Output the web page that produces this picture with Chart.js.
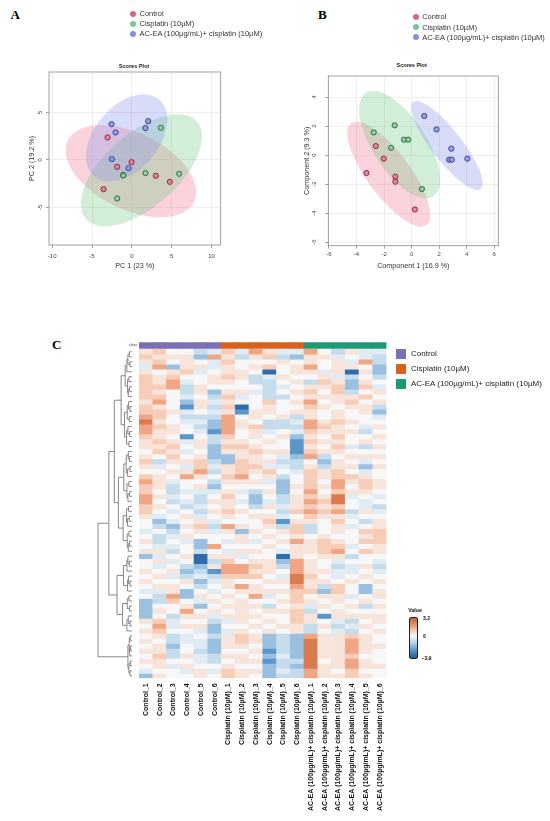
<!DOCTYPE html>
<html>
<head>
<meta charset="utf-8">
<script src="https://cdn.jsdelivr.net/npm/chart.js"></script>
<style>
  body { margin: 0; background: #fff; font-family: 'Liberation Sans', Arial, sans-serif; }
  #page { position: relative; width: 550px; height: 821px; overflow: hidden; background: #fff; }
  canvas { position: absolute; }
  .panel { position: absolute; font: bold 13px/13px 'Liberation Serif', 'Times New Roman', serif; color: #000; }
  .leg { position: absolute; height: 10px; line-height: 10px; font-size: 7.5px; color: #333; white-space: nowrap; }
  .leg i { display: inline-block; width: 6px; height: 6px; border-radius: 50%; margin-right: 3.5px; vertical-align: -0.5px; }
  .title { position: absolute; font: bold 5.5px/6px 'Liberation Sans', Arial, sans-serif; color: #222; transform: translateX(-50%); white-space: nowrap; }
  .hleg { position: absolute; height: 10px; line-height: 10px; font-size: 8px; color: #222; white-space: nowrap; }
  .hsq { position: absolute; width: 10px; height: 10px; }
  .cb { position: absolute; font-weight: bold; color: #111; white-space: nowrap; }
</style>
</head>
<body>
<div id="page">
  <div class="panel" style="left:10.5px;top:8px">A</div>
  <div class="panel" style="left:318px;top:8px">B</div>
  <div class="panel" style="left:52px;top:338px">C</div>
  <div class="title" style="left:134px;top:62.5px">Scores Plot</div>
  <div class="title" style="left:411.7px;top:62px">Scores Plot</div>
  <canvas id="pcaA" width="275" height="280" style="left:0;top:0"></canvas>
  <canvas id="plsB" width="275" height="280" style="left:275px;top:0"></canvas>
  <canvas id="heat" width="305" height="491" style="left:90px;top:330px"></canvas>
  <div class="cb" style="left:129px;top:343px;font-size:3.5px;font-weight:normal;color:#333">class</div>
</div>
<script>
// ---- data ----
const groupNames = ['Control', 'Cisplatin (10µM)', 'AC-EA (100µg/mL)+ cisplatin (10µM)'];

// A: PCA scores
const aControlX = [-3.05, -1.84, -0.04, 3.01, 4.77, -3.55];
const aControlY = [2.35, -0.74, -0.25, -1.68, -2.32, -3.09];
const aCisX = [3.64, 1.71, 5.94, -1.09, -1.07, -1.84];
const aCisY = [3.37, -1.40, -1.47, -1.58, -1.65, -4.07];
const aComboX = [-2.55, -2.05, 2.05, 1.71, -2.51, -0.42];
const aComboY = [3.75, 2.88, 4.07, 3.33, 0.07, -0.88];
// confidence ellipses: centre x, centre y, half width, half height, correlation
const aEllipses = [[-0.12, -1.2, 8.2, 4.85, -0.45], [1.2, -1.1, 7.6, 5.9, 0.6], [-0.65, 2.3, 5.1, 4.6, 0.42]];
const aTicksX = [-10, -5, 0, 5, 10];
const aTicksY = [-5, 0, 5];

// B: PLS-DA scores
const bControlX = [-2.60, -2.02, -3.28, -1.18, -1.18, 0.24];
const bControlY = [0.62, -0.25, -1.24, -1.49, -1.84, -3.75];
const bCisX = [-2.75, -1.23, -0.55, -0.24, -1.49, 0.75];
const bCisY = [1.56, 2.05, 1.06, 1.06, 0.50, -2.34];
const bComboX = [0.92, 1.81, 2.89, 2.73, 2.92, 4.05];
const bComboY = [2.69, 1.77, 0.44, -0.32, -0.32, -0.25];
const bEllipses = [[-1.65, -1.32, 3.02, 3.62, -0.78], [-0.87, 0.72, 2.94, 3.71, -0.65], [2.57, 0.66, 2.6, 3.07, -0.85]];
const bTicksX = [-6, -4, -2, 0, 2, 4, 6];
const bTicksY = [-6, -4, -2, 0, 2, 4];

// C: heatmap
const sampleLabels = [
  'Control_1', 'Control_2', 'Control_3', 'Control_4', 'Control_5', 'Control_6',
  'Cisplatin (10µM)_1', 'Cisplatin (10µM)_2', 'Cisplatin (10µM)_3', 'Cisplatin (10µM)_4', 'Cisplatin (10µM)_5', 'Cisplatin (10µM)_6',
  'AC-EA (100µg/mL)+ cisplatin (10µM)_1', 'AC-EA (100µg/mL)+ cisplatin (10µM)_2', 'AC-EA (100µg/mL)+ cisplatin (10µM)_3',
  'AC-EA (100µg/mL)+ cisplatin (10µM)_4', 'AC-EA (100µg/mL)+ cisplatin (10µM)_5', 'AC-EA (100µg/mL)+ cisplatin (10µM)_6'
];
const sampleGroups = [0, 0, 0, 0, 0, 0, 1, 1, 1, 1, 1, 1, 2, 2, 2, 2, 2, 2];
// one letter per cell, a = strongly low ... j = strongly high
const levelCodes = 'abcdefghij';
const levelValues = [-3.5, -2.5, -1.6, -0.9, -0.4, 0, 0.4, 0.9, 1.6, 2.5];
const heatRows = [
  'ghffdeheigeeifdgee', 'hgggcigdghdcggefed', 'ghfgfehfffgfgfgeid', 'eicggegfghfgifggfc',
  'gfghefggfafggegagc', 'hghffghgdegffgedfd', 'hgiefggfddfgdhgcgf', 'hhidgffffdefgghche',
  'hgfdgcggedfghfhdfg', 'hhfefdhefddfgggghf', 'gifcgegffhfgifghfg', 'hgfbgdhafgffhgfggd',
  'hhgefegbggfggfgfgc', 'ihfdddifgfgdgfgffe', 'jgfeecigfddeighgff', 'ihgfdcighdddihgfeg',
  'iggfebifgefehgggdf', 'hgfbfdhfgfgcgfhffg', 'ghgegdggfgfbhggfgf', 'gghfgchhgffbgfhedg',
  'fhgefcgghggbhggfff', 'gfhfgccggfecidfggg', 'hdgghdchggddfcgfef', 'gefeheghheedgdggcg',
  'ffggidghghfehghfef', 'hgfigfhifgdfhghhgf', 'igeffdgggecfhfighg', 'hgdfgcffffcghgifhg',
  'hfdeeegedgcfifhggf', 'igefdfhfcfdghgjefe', 'ifdedggecedgihjfef', 'hgfdefgfdgeghghfed',
  'hfefdghgffdhihidge', 'gefgefgfggefhggeff', 'fcefgefffhbggfhfdg', 'fdcghdigfgdhdfgefg',
  'efdfgegcgfghdfgfhh', 'fdegfffgfgfgfgffgh', 'gdfecfegefgighgfhh', 'feefcifffgfgghhefg',
  'ggdfdfeggfegghifhg', 'cefgaggeffagfggdff', 'fgefadhfggcigfeffe', 'fefdcgiihgdigfdegd',
  'gfgcdbiiggfiggeefe', 'fgededhhhfejhfefgf', 'gffgcegffggjggfgfg', 'fggfdfgigffigdhfcf',
  'eegcfefgggghhchfcg', 'fdicgfgfiefhfggefg', 'cdhfegfgffghgfgfgf', 'cffgcfgggdfgegfgdg',
  'cgfifgfgfgghdfgfff', 'cfdggegggffhgbgggg', 'gheffdegfgfhgfedfg', 'fieggcffgfggdgdegf',
  'ghffecegfgfgdfedfg', 'fgdefdghgcdcigghgf', 'gfdeecghgcdcjggigf', 'fgcfecggfcdcjggigg',
  'ggdfdcffgbdcjggigf', 'fhdgedggfcecjgghff', 'ggffedfggbddjfgigf', 'fgegffgffcdcjggigg',
  'effegehggcedigfhff', 'cgffgfhgfcddigghgf'
];
// row dendrogram: merge height between row i and row i+1
const mergeHeights = [
  0.8, 1.2, 0.6, 1.5, 2.0, 0.9, 1.3, 0.7, 1.1, 3.2, 1.0, 0.6, 1.4, 0.8, 2.2, 1.2, 0.7, 1.6, 0.9, 5.2,
  1.1, 0.8, 1.7, 0.6, 1.3, 2.4, 0.9, 1.5, 0.7, 1.2, 4.0, 1.0, 1.6, 0.8, 1.3, 2.6, 0.9, 1.4, 0.7, 1.1,
  6.8, 1.2, 0.8, 1.5, 2.5, 1.0, 0.6, 1.3, 4.4, 0.9, 1.4, 0.7, 2.8, 1.1, 0.6, 1.5, 10, 0.5, 0.8, 0.4,
  0.7, 1.2, 0.5, 0.9, 0.6
];
const colorbarTicks = [3.2, 0, -3.9];

// ---- styles ----
const legendDot = ['#d9667e', '#7cc593', '#8491d9'];
const pointFill = ['rgba(228,125,146,0.9)', 'rgba(133,206,154,0.9)', 'rgba(143,154,228,0.9)'];
const pointEdge = ['#8e2a40', '#2e6e40', '#35438f'];
const ellipseFill = ['rgba(240,110,140,0.30)', 'rgba(105,195,125,0.30)', 'rgba(130,140,235,0.30)'];
const groupColors = ['#7b6fb6', '#d9621a', '#1c9a75'];
const scaleStops = [-3.9, -2.5, -1.2, 0, 1.0, 2.0, 3.2];
const scaleColors = ['#1c5c9c', '#5b96cb', '#b4d3ea', '#f7f7f7', '#f8c8b0', '#eb8f66', '#c0602f'];

Chart.defaults.font.family = "'Liberation Sans', Arial, sans-serif";
Chart.defaults.color = '#444';

const page = document.getElementById('page');
const add = (cls, css, html) => {
  const d = document.createElement('div');
  d.className = cls;
  d.style.cssText = css;
  d.innerHTML = html;
  page.appendChild(d);
};

// legends for A and B
[[133, [14.3, 24.3, 34.3]], [415.7, [17.3, 27.5, 37.7]]].forEach(([x, ys]) => {
  groupNames.forEach((name, i) => {
    add('leg', `left:${x - 3}px;top:${ys[i] - 5}px`, `<i style="background:${legendDot[i]}"></i>${name}`);
  });
});

// legend for C
[354.3, 369, 383.6].forEach((cy, i) => {
  add('hsq', `left:396px;top:${cy - 5}px;background:${groupColors[i]}`, '');
  add('hleg', `left:411px;top:${cy - 5}px`, groupNames[i]);
});

// colour key
const lo = scaleStops[0], hi = scaleStops[scaleStops.length - 1];
const grad = scaleStops.map((v, i) => `${scaleColors[i]} ${((v - lo) / (hi - lo) * 100).toFixed(1)}%`).join(',');
add('cb', 'left:408.3px;top:606.5px;font-size:5.2px', 'Value');
add('cb', `left:409px;top:616.7px;width:6.5px;height:40.5px;border:1px solid #222;border-radius:2px;background:linear-gradient(to top,${grad})`, '');
const yOfTick = v => 617.7 + (hi - v) / (hi - lo) * 40.5;
colorbarTicks.forEach(v => {
  add('cb', `left:${v < 0 ? 421.5 : 423}px;top:${yOfTick(v) - 3}px;font-size:5px;line-height:6px`, v < 0 ? '−' + Math.abs(v) : String(v));
});

function valueColor(v) {
  const n = scaleStops.length;
  if (v <= scaleStops[0]) return scaleColors[0];
  if (v >= scaleStops[n - 1]) return scaleColors[n - 1];
  let i = 0;
  while (v > scaleStops[i + 1]) i++;
  const t = (v - scaleStops[i]) / (scaleStops[i + 1] - scaleStops[i]);
  const a = scaleColors[i], b = scaleColors[i + 1];
  const ch = (c, k) => parseInt(c.substr(1 + k * 2, 2), 16);
  const mix = [0, 1, 2].map(k => Math.round(ch(a, k) + (ch(b, k) - ch(a, k)) * t));
  return `rgb(${mix.join(',')})`;
}

// ---- score plots ----
const ellipsePlugin = {
  id: 'ellipses',
  beforeDatasetsDraw(chart, args, opts) {
    const { ctx, chartArea: ca, scales: { x, y } } = chart;
    const kx = x.getPixelForValue(1) - x.getPixelForValue(0);
    const ky = y.getPixelForValue(0) - y.getPixelForValue(1);
    ctx.save();
    ctx.strokeStyle = '#8a8a8a';
    ctx.lineWidth = 0.8;
    ctx.strokeRect(ca.left, ca.top, ca.right - ca.left, ca.bottom - ca.top);
    ctx.beginPath();
    ctx.rect(ca.left, ca.top, ca.right - ca.left, ca.bottom - ca.top);
    ctx.clip();
    opts.list.forEach(([cx, cy, wx, wy, rho], i) => {
      ctx.save();
      ctx.translate(x.getPixelForValue(cx), y.getPixelForValue(cy));
      ctx.transform(kx * wx, -ky * rho * wy, 0, -ky * wy * Math.sqrt(1 - rho * rho), 0, 0);
      ctx.beginPath();
      ctx.arc(0, 0, 1, 0, Math.PI * 2);
      ctx.restore();
      ctx.fillStyle = ellipseFill[i];
      ctx.fill();
    });
    ctx.restore();
  }
};

function scoresChart(id, xs, ys, ellipses, xr, yr, xt, yt, xTitle, yTitle, lay) {
  const datasets = groupNames.map((name, g) => ({
    label: name,
    data: xs[g].map((v, i) => ({ x: v, y: ys[g][i] })),
    pointRadius: 2.6,
    pointBorderWidth: 1,
    pointBackgroundColor: pointFill[g],
    pointBorderColor: pointEdge[g]
  }));
  const grid = { color: '#e2e2e2', lineWidth: 0.6, tickLength: 3, tickColor: '#777', tickWidth: 0.7 };
  return new Chart(document.getElementById(id), {
    type: 'scatter',
    data: { datasets },
    plugins: [ellipsePlugin],
    options: {
      responsive: false,
      animation: false,
      layout: { padding: lay.pad },
      plugins: { legend: { display: false }, tooltip: { enabled: false }, ellipses: { list: ellipses } },
      scales: {
        x: {
          min: xr[0], max: xr[1],
          afterBuildTicks: s => { s.ticks = xt.map(v => ({ value: v })); },
          afterFit: s => { s.height = lay.xh; },
          grid, border: { display: false },
          ticks: { font: { size: 6 }, color: '#444', padding: lay.xpad, maxRotation: 0 },
          title: { display: true, text: xTitle, font: { size: 7.2 }, color: '#333', padding: { top: 0, bottom: 4 } }
        },
        y: {
          min: yr[0], max: yr[1],
          afterBuildTicks: s => { s.ticks = yt.map(v => ({ value: v })); },
          afterFit: s => { s.width = lay.yw; },
          grid, border: { display: false },
          ticks: { font: { size: 6 }, color: '#444', padding: lay.ypad, minRotation: 90, maxRotation: 90, crossAlign: 'center' },
          title: { display: true, text: yTitle, font: { size: 7.2 }, color: '#333', padding: { top: 4, bottom: 0 } }
        }
      }
    }
  });
}

scoresChart('pcaA', [aControlX, aCisX, aComboX], [aControlY, aCisY, aComboY], aEllipses,
  [-10.4, 11.15], [-8.97, 9.24], aTicksX, aTicksY, 'PC 1 (23 %)', 'PC 2 (19.2 %)',
  { pad: { left: 23.4, right: 54.3, top: 72, bottom: 6 }, xh: 29, yw: 25.6, xpad: 4.4, ypad: 2.6 });

scoresChart('plsB', [bControlX, bCisX, bComboX], [bControlY, bCisY, bComboY], bEllipses,
  [-6.05, 6.3], [-6.25, 5.45], bTicksX, bTicksY, 'Component 1 (16.9 %)', 'Component 2 (9.3 %)',
  { pad: { left: 24, right: 51.7, top: 76, bottom: 6 }, xh: 28.3, yw: 29.3, xpad: 1.7, ypad: 8.3 });

// ---- heatmap ----
const dendroPlugin = {
  id: 'dendro',
  afterDraw(chart) {
    const { ctx, chartArea, scales: { y } } = chart;
    const leafX = chartArea.left - 7;
    const xOf = h => leafX - h * 3.4;
    ctx.save();
    ctx.strokeStyle = '#7a7a7a';
    ctx.lineWidth = 0.9;
    const build = (a, b) => {
      if (a === b) return { x: leafX, y: y.getPixelForValue(a + 0.5) };
      let k = a;
      for (let i = a; i < b; i++) if (mergeHeights[i] > mergeHeights[k]) k = i;
      const L = build(a, k), R = build(k + 1, b);
      const hx = xOf(mergeHeights[k]);
      ctx.beginPath();
      ctx.moveTo(L.x, L.y);
      ctx.lineTo(hx, L.y);
      ctx.lineTo(hx, R.y);
      ctx.lineTo(R.x, R.y);
      ctx.stroke();
      return { x: hx, y: (L.y + R.y) / 2 };
    };
    build(0, heatRows.length - 1);
    ctx.restore();
  }
};

const cell = { grouped: false, barPercentage: 1, categoryPercentage: 1, borderWidth: 0, borderSkipped: false };
const heatSets = heatRows.map((row, r) => Object.assign({
  data: sampleLabels.map(() => [r, r + 1]),
  backgroundColor: [...row].map(c => valueColor(levelValues[levelCodes.indexOf(c)]))
}, cell));
heatSets.unshift(Object.assign({
  data: sampleLabels.map(() => [-1.4, -0.15]),
  backgroundColor: sampleGroups.map(g => groupColors[g])
}, cell));

new Chart(document.getElementById('heat'), {
  type: 'bar',
  data: { labels: sampleLabels, datasets: heatSets },
  plugins: [dendroPlugin],
  options: {
    responsive: false,
    animation: false,
    layout: { padding: { left: 49, right: 8.5, top: 12.3, bottom: 0 } },
    plugins: { legend: { display: false }, tooltip: { enabled: false } },
    scales: {
      x: {
        grid: { display: false, drawTicks: false },
        border: { display: false },
        afterFit: s => { s.height = 142.7; },
        ticks: { autoSkip: false, minRotation: 90, maxRotation: 90, padding: 5, color: '#111', font: { size: 7, weight: 'bold' } }
      },
      y: { type: 'linear', reverse: true, min: -1.4, max: heatRows.length, display: false }
    }
  }
});
</script>
</body>
</html>
